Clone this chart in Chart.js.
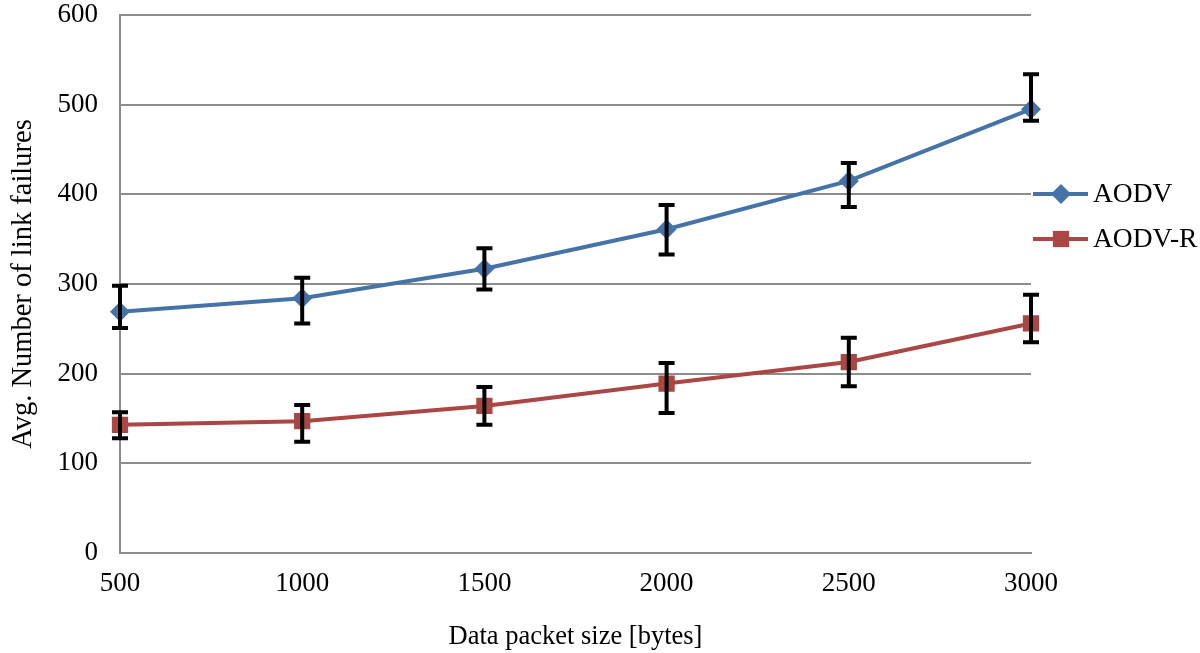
<!DOCTYPE html>
<html>
<head>
<meta charset="utf-8">
<script src="https://cdn.jsdelivr.net/npm/chart.js@4/dist/chart.umd.min.js"></script>
<style>
  html, body { margin: 0; padding: 0; background: #fff; }
  #wrap { width: 1200px; height: 653px; }
</style>
</head>
<body>
<div id="wrap"><canvas id="chart" width="1200" height="653"></canvas></div>
<script>
"use strict";

// data
const packetSizes = ['500', '1000', '1500', '2000', '2500', '3000'];

const aodv = [269, 284, 317, 361, 415, 495];
const aodvHigh = [298, 307, 340, 388, 435, 534];
const aodvLow = [251, 256, 294, 333, 386, 482];

const aodvR = [143, 147, 164, 189, 213, 256];
const aodvRHigh = [157, 165, 185, 212, 240, 288];
const aodvRLow = [128, 124, 143, 156, 186, 235];

const yTicks = [0, 100, 200, 300, 400, 500, 600];

const FONT = "'Liberation Serif', 'Times New Roman', serif";

//draws the black error bars on top of the lines
const errorBars = {
  id: 'errorBars',
  afterDatasetsDraw(chart) {
    const ctx = chart.ctx;
    const x = chart.scales.x;
    const y = chart.scales.y;
    ctx.save();
    ctx.strokeStyle = '#000';
    ctx.lineWidth = 4;
    chart.data.datasets.forEach(ds => {
      ds.data.forEach((v, i) => {
        const px = x.getPixelForValue(i);
        const top = y.getPixelForValue(ds.errHigh[i]);
        const bot = y.getPixelForValue(ds.errLow[i]);
        ctx.beginPath();
        ctx.moveTo(px, top);
        ctx.lineTo(px, bot);
        ctx.moveTo(px - 8, top);
        ctx.lineTo(px + 8, top);
        ctx.moveTo(px - 8, bot);
        ctx.lineTo(px + 8, bot);
        ctx.stroke();
      });
    });
    ctx.restore();
  }
};

//legend at the right side, next to the plot
const sideLegend = {
  id: 'sideLegend',
  afterDraw(chart) {
    const ctx = chart.ctx;
    const left = chart.chartArea.right + 2;
    const rows = [194, 239];
    ctx.save();
    chart.data.datasets.forEach((ds, i) => {
      const yy = rows[i];
      ctx.strokeStyle = ds.borderColor;
      ctx.lineWidth = 4;
      ctx.beginPath();
      ctx.moveTo(left, yy);
      ctx.lineTo(left + 55, yy);
      ctx.stroke();
      ctx.fillStyle = ds.borderColor;
      Chart.helpers.drawPoint(ctx, {
        pointStyle: ds.pointStyle,
        radius: ds.pointRadius,
        borderWidth: 0
      }, left + 28, yy);
      ctx.fillStyle = '#000';
      ctx.font = '27.5px ' + FONT;
      ctx.textBaseline = 'middle';
      ctx.textAlign = 'left';
      ctx.fillText(ds.label, left + 60, yy + 1);
    });
    ctx.restore();
  }
};

const chart = new Chart(document.getElementById('chart'), {
  type: 'line',
  data: {
    labels: packetSizes,
    datasets: [
      {
        label: 'AODV',
        data: aodv,
        errHigh: aodvHigh,
        errLow: aodvLow,
        borderColor: '#4572A7',
        backgroundColor: '#4572A7',
        borderWidth: 4,
        pointStyle: 'rectRot',
        pointRadius: 10,
        pointBorderWidth: 0,
        tension: 0
      },
      {
        label: 'AODV-R',
        data: aodvR,
        errHigh: aodvRHigh,
        errLow: aodvRLow,
        borderColor: '#AA4643',
        backgroundColor: '#AA4643',
        borderWidth: 4,
        pointStyle: 'rect',
        pointRadius: 11.5,
        pointBorderWidth: 0,
        tension: 0
      }
    ]
  },
  options: {
    responsive: false,
    animation: false,
    layout: { padding: { left: 0, right: 169, top: 15, bottom: 0 } },
    plugins: {
      legend: { display: false },
      tooltip: { enabled: false }
    },
    scales: {
      x: {
        offset: false,
        grid: { display: false, drawTicks: false },
        border: { display: true, color: '#8c8c8c', width: 2 },
        ticks: { color: '#000', font: { family: FONT, size: 27 }, padding: 15, maxRotation: 0 },
        title: {
          display: true,
          text: 'Data packet size [bytes]',
          color: '#000',
          font: { family: FONT, size: 26.5 },
          padding: { top: 0, bottom: 0 }
        },
        afterFit(scale) {
          scale.height = 100;
          scale.paddingLeft = 0;
          scale.paddingRight = 0;
        }
      },
      y: {
        min: 0,
        max: 600,
        afterBuildTicks(scale) { scale.ticks = yTicks.map(v => ({ value: v })); },
        grid: { color: '#8c8c8c', lineWidth: 2, drawTicks: false },
        border: { display: true, color: '#8c8c8c', width: 2 },
        ticks: { color: '#000', font: { family: FONT, size: 27 }, padding: 22 },
        title: {
          display: true,
          text: 'Avg. Number of link failures',
          color: '#000',
          font: { family: FONT, size: 28.5 },
          padding: { top: 6, bottom: 0 }
        },
        afterFit(scale) {
          scale.width = 120;
          scale.paddingTop = 0;
          scale.paddingBottom = 0;
        }
      }
    }
  },
  plugins: [errorBars, sideLegend]
});
</script>
</body>
</html>
